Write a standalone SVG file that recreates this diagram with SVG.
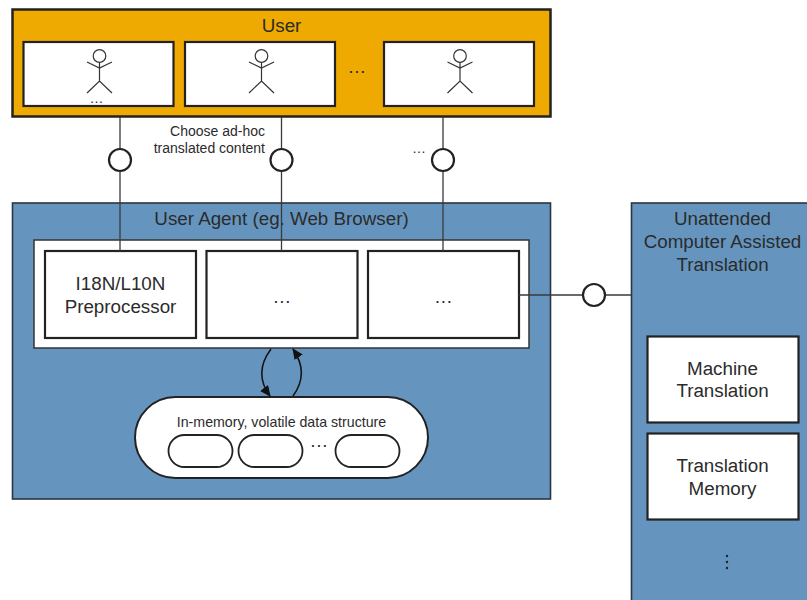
<svg xmlns="http://www.w3.org/2000/svg" width="807" height="600" viewBox="0 0 807 600">
<defs>
<marker id="arr" markerWidth="11" markerHeight="10" refX="10" refY="5" orient="auto" markerUnits="userSpaceOnUse"><path d="M0,0L11,5L0,10Z" fill="#111"/></marker>
<g id="actor" fill="none" stroke="#333" stroke-width="1.200"><circle cx="0" cy="-12.500" r="6.300" fill="#fff"/><path d="M0,-6.200V12.500M-12.500,-6.500L0,-0.500L12.500,-6.500M-12.500,24.500L0,12.500L12.500,24.500"/></g>
</defs>
<style>
text{font-family:"Liberation Sans",Arial,sans-serif;fill:#2b2b2b;text-anchor:middle}
.t{font-size:18.800px}.s{font-size:14px}.m{font-size:14.200px}
.box{fill:#fff;stroke:#222;stroke-width:2.200}
.blue{fill:#6595bf;stroke:#2a3540;stroke-width:1.600}
.line{fill:none;stroke:#3a3a3a;stroke-width:1.300}
.lol{fill:#fff;stroke:#222;stroke-width:2.200}
.pill{fill:#fff;stroke:#222;stroke-width:1.800}
</style>
<rect width="807" height="600" fill="#fff"/>
<g id="user">
<rect x="12.500" y="9.500" width="538" height="107" fill="#eeaa00" stroke="#222" stroke-width="2.500"/>
<text class="t" x="281.500" y="32">User</text>
</g>
<g id="user1"><rect class="box" x="23.500" y="42" width="150" height="64"/><use href="#actor" x="99.500" y="68.500"/><text class="s" x="96.500" y="102.500">…</text></g>
<g id="user2"><rect class="box" x="185" y="42" width="150" height="64"/><use href="#actor" x="261.500" y="68.500"/></g>
<g id="user-more"><text class="t" x="357" y="73">…</text></g>
<g id="user3"><rect class="box" x="384" y="42" width="150" height="64"/><use href="#actor" x="460" y="68.500"/></g>
<g id="agent">
<rect class="blue" x="12.500" y="203" width="538" height="296"/>
<text class="t" x="281.500" y="225">User Agent (eg. Web Browser)</text>
<rect x="34" y="240" width="495" height="108" fill="#fff" stroke="#333" stroke-width="1.500"/>
</g>
<g id="preprocessor"><rect class="box" x="45" y="251" width="151" height="87"/><text class="t" x="120.500" y="290">I18N/L10N</text><text class="t" x="120.500" y="313">Preprocessor</text></g>
<g id="middle"><rect class="box" x="206.500" y="251" width="151" height="87"/><text class="t" x="282" y="303">…</text></g>
<g id="right"><rect class="box" x="368" y="251" width="151" height="87"/><text class="t" x="443.500" y="303">…</text></g>
<g id="memory">
<rect x="135" y="397" width="293" height="81" rx="40.500" fill="#fff" stroke="#222" stroke-width="2"/>
<text class="m" x="281.500" y="427">In-memory, volatile data structure</text>
<rect class="pill" x="168.500" y="435" width="64" height="32" rx="16"/>
<rect class="pill" x="238.500" y="435" width="64" height="32" rx="16"/>
<text class="t" x="319" y="447">…</text>
<rect class="pill" x="335.500" y="435" width="64" height="32" rx="16"/>
</g>
<g id="cat">
<rect class="blue" x="631.500" y="203" width="190" height="410"/>
<text class="t" x="722.500" y="225">Unattended</text>
<text class="t" x="722.500" y="248">Computer Assisted</text>
<text class="t" x="722.500" y="271">Translation</text>
</g>
<g id="mt"><rect class="box" x="647.500" y="336.500" width="151" height="86"/><text class="t" x="722.500" y="375">Machine</text><text class="t" x="722.500" y="397">Translation</text></g>
<g id="tm"><rect class="box" x="647.500" y="433.500" width="151" height="86"/><text class="t" x="722.500" y="472">Translation</text><text class="t" x="722.500" y="495">Memory</text></g>
<g id="more"><circle cx="727" cy="556" r="1.200" fill="#222"/><circle cx="727" cy="562" r="1.200" fill="#222"/><circle cx="727" cy="568" r="1.200" fill="#222"/></g>
<g id="connectors">
<path class="line" d="M120,117V251M281.500,117V251M443,117V251M519,295H631"/>
<path d="M271,349C259,365 259,381 270,396" fill="none" stroke="#111" stroke-width="1.500" marker-end="url(#arr)"/>
<path d="M293,396C304,381 304,365 293,349" fill="none" stroke="#111" stroke-width="1.500" marker-end="url(#arr)"/>
<circle class="lol" cx="120" cy="160" r="11"/>
<circle class="lol" cx="281.500" cy="160" r="11"/>
<circle class="lol" cx="443" cy="160" r="11"/>
<circle class="lol" cx="594" cy="295" r="11"/>
</g>
<g id="labels">
<text class="s" x="265" y="136" style="text-anchor:end">Choose ad-hoc</text>
<text class="s" x="265" y="153" style="text-anchor:end">translated content</text>
<text class="s" x="419" y="153">…</text>
</g>
</svg>
